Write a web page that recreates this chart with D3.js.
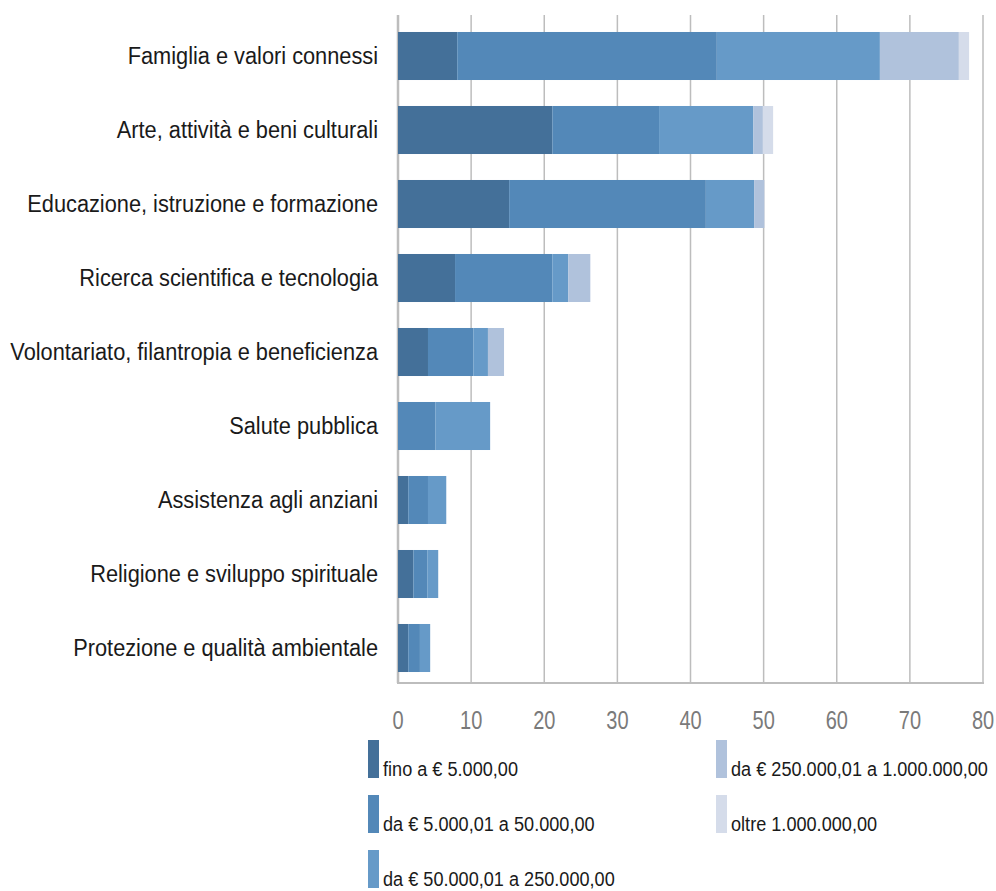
<!DOCTYPE html>
<html lang="it">
<head>
<meta charset="UTF-8">
<title>Settori per classe di importo</title>
<script src="https://d3js.org/d3.v7.min.js"></script>
<style>
  body { margin: 0; background: #fff; }
  svg { display: block; font-family: "Liberation Sans", Arial, sans-serif; }
  .grid line { stroke: #bdbdbd; stroke-width: 1.5; }
  .cat { font-size: 23px; fill: #1a1a1a; }
  .tick-label { font-size: 25px; fill: #7a7a7a; }
  .legend-text { font-size: 21px; fill: #1a1a1a; }
</style>
</head>
<body>
<svg id="chart" width="996" height="891"></svg>
<script>
// categories, top to bottom
const categories = [
  "Famiglia e valori connessi",
  "Arte, attività e beni culturali",
  "Educazione, istruzione e formazione",
  "Ricerca scientifica e tecnologia",
  "Volontariato, filantropia e beneficienza",
  "Salute pubblica",
  "Assistenza agli anziani",
  "Religione e sviluppo spirituale",
  "Protezione e qualità ambientale"
];

// one array per size class
const upTo5k        = [8.1, 21.1, 15.2, 7.8, 4.1, 0.0, 1.4, 2.1, 1.4];
const from5kTo50k   = [35.5, 14.6, 26.9, 13.3, 6.2, 5.1, 2.7, 1.9, 1.6];
const from50kTo250k = [22.3, 12.9, 6.6, 2.2, 2.0, 7.5, 2.5, 1.5, 1.4];
const from250kTo1m  = [10.8, 1.3, 1.4, 3.0, 2.2, 0.0, 0.0, 0.0, 0.0];
const over1m        = [1.4, 1.4, 0.0, 0.0, 0.0, 0.0, 0.0, 0.0, 0.0];

const seriesNames = [
  "fino a € 5.000,00",
  "da € 5.000,01 a 50.000,00",
  "da € 50.000,01 a 250.000,00",
  "da € 250.000,01 a 1.000.000,00",
  "oltre 1.000.000,00"
];
const seriesColors = ["#447099", "#5388b8", "#669ac8", "#b0c2dc", "#d5dcea"];
const xTicks = [0, 10, 20, 30, 40, 50, 60, 70, 80];

const seriesValues = [upTo5k, from5kTo50k, from50kTo250k, from250kTo1m, over1m];
const rows = categories.map((c, i) => {
  const r = { category: c };
  seriesNames.forEach((s, k) => r[s] = seriesValues[k][i]);
  return r;
});

const svg = d3.select("#chart");
const plotTop = 15, plotBottom = 683;

const x = d3.scaleLinear().domain([0, 80]).range([398, 983]);
const y = d3.scaleBand().domain(categories).range([19, 685]).paddingInner(0.351).paddingOuter(0.1755);
const color = d3.scaleOrdinal().domain(seriesNames).range(seriesColors);

// the original uses a condensed face; squeeze a regular one horizontally
function squeeze(sel, widest, target) {
  let w = 0;
  sel.each(function(d) { if (d === widest) w = this.getComputedTextLength(); });
  return w ? target / w : 0.8;
}

// gridlines
const grid = svg.append("g").attr("class", "grid");
grid.selectAll("line.v").data(xTicks).enter().append("line")
  .attr("class", "v")
  .attr("x1", d => x(d)).attr("x2", d => x(d))
  .attr("y1", plotTop).attr("y2", plotBottom)
  .style("stroke-width", d => d === 0 ? 2.5 : 1.5);
grid.append("line")
  .attr("x1", x(0) - 1).attr("x2", x(80) + 1)
  .attr("y1", plotBottom).attr("y2", plotBottom)
  .style("stroke-width", 2);

// stacked bars
const stack = d3.stack().keys(seriesNames);
const layers = stack(rows);
svg.append("g").selectAll("g").data(layers).enter().append("g")
  .attr("fill", d => color(d.key))
  .selectAll("rect").data(d => d).enter().append("rect")
  .attr("x", d => x(d[0]))
  .attr("y", d => y(d.data.category))
  .attr("width", d => Math.max(0, x(d[1]) - x(d[0])))
  .attr("height", y.bandwidth());

// category labels
const cats = svg.append("g").selectAll("text").data(categories).enter().append("text")
  .attr("class", "cat")
  .attr("dy", "0.35em")
  .attr("text-anchor", "end")
  .text(d => d);
const catScale = squeeze(cats, categories[4], 368);
cats.attr("transform", d => `translate(378,${y(d) + y.bandwidth() / 2}) scale(${catScale},1)`);

// x tick labels
svg.append("g").selectAll("text").data(xTicks).enter().append("text")
  .attr("class", "tick-label")
  .attr("text-anchor", "middle")
  .attr("transform", d => `translate(${x(d)},729) scale(0.8,1)`)
  .text(d => d);

// legend: two columns
const legendPos = [
  [368, 740], [368, 795], [368, 850],
  [716, 740], [716, 795]
];
const legend = svg.append("g").selectAll("g").data(seriesNames).enter().append("g")
  .attr("transform", (d, i) => `translate(${legendPos[i][0]},${legendPos[i][1]})`);
legend.append("rect")
  .attr("width", 11).attr("height", 38)
  .attr("fill", d => color(d));
const legText = legend.append("text")
  .attr("class", "legend-text")
  .text(d => d);
const legScale = squeeze(legText, seriesNames[3], 257);
legText.attr("transform", `translate(15,36) scale(${legScale},1)`);
</script>
</body>
</html>
